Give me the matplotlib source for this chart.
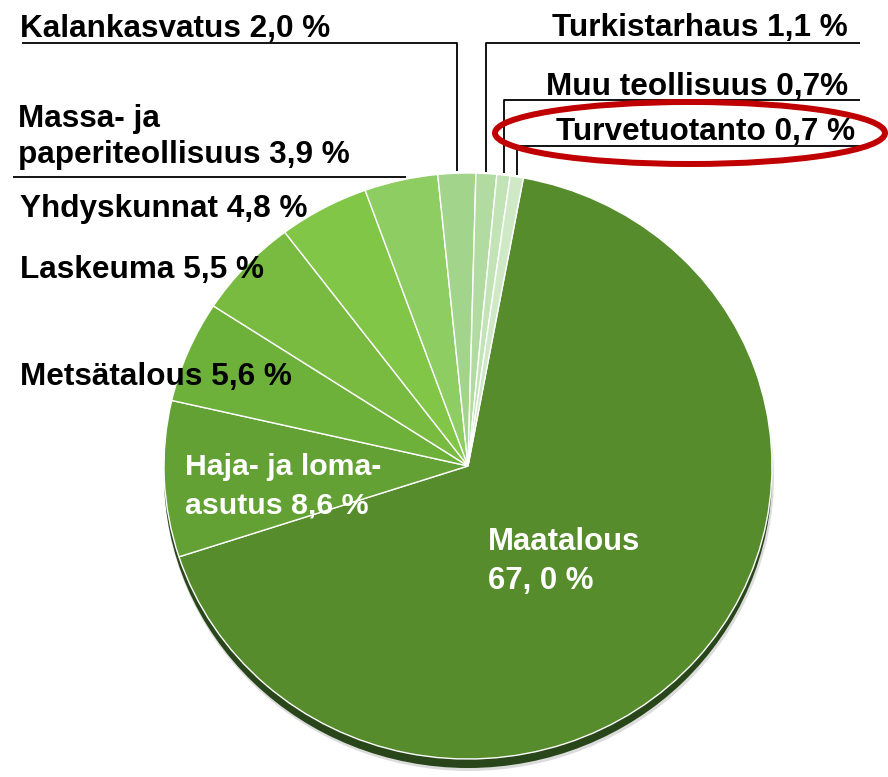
import matplotlib
matplotlib.use("Agg")
import matplotlib.pyplot as plt
from matplotlib.patches import Ellipse
from matplotlib.lines import Line2D
from matplotlib.transforms import Affine2D
import numpy as np

# ---- data ----
categories = ["Maatalous", "Haja- ja lomaasutus", "Metsätalous", "Laskeuma",
              "Yhdyskunnat", "Massa- ja paperiteollisuus", "Kalankasvatus",
              "Turkistarhaus", "Muu teollisuus", "Turvetuotanto"]
values = [67.0, 8.6, 5.6, 5.5, 4.8, 3.9, 2.0, 1.1, 0.7, 0.7]
labels = ["Maatalous\n67, 0 %", "Haja- ja loma-\nasutus 8,6 %", "Metsätalous 5,6 %",
          "Laskeuma 5,5 %", "Yhdyskunnat 4,8 %", "Massa- ja\npaperiteollisuus 3,9 %",
          "Kalankasvatus 2,0 %", "Turkistarhaus 1,1 %", "Muu teollisuus 0,7%",
          "Turvetuotanto 0,7 %"]
colors = ["#568C2C", "#63A134", "#6DB03A", "#78BB40", "#82C648", "#8DCD62",
          "#A3D48B", "#B1DBA0", "#C2E3B5", "#CFE9C6"]

W, H = 888, 777
RX, RY = 304, 293
CX, CY = 468, 466           # pie centre, pixels from top-left
SY = RX / RY                # y data scaling

plt.rcParams['font.family'] = ['Liberation Sans', 'DejaVu Sans']
fig = plt.figure(figsize=(W / 100, H / 100), dpi=100)
ax = fig.add_axes([0, 0, 1, 1])

# pixel transform (x right, y down, origin top-left)
pix = Affine2D().scale(1 / W, -1 / H).translate(0, 1) + fig.transFigure

cxd, cyd = CX, (H - CY) * SY

# shadow under the pie
ax.add_patch(Ellipse((cxd + 1, cyd - 11 * SY), 2 * RX + 2, 2 * RX + 2,
                     facecolor="#dcdcdc", edgecolor="none", zorder=0))
ax.add_patch(Ellipse((cxd, cyd - 9 * SY), 2 * RX, 2 * RX,
                     facecolor="#28461A", edgecolor="none", zorder=1))

wedges, _ = ax.pie(values, colors=colors, startangle=79.5, counterclock=False,
                   center=(cxd, cyd), radius=RX,
                   wedgeprops=dict(edgecolor="white", linewidth=1.0, zorder=2))
for w in wedges:
    w.set_zorder(2)
ax.set_xlim(0, W)
ax.set_ylim(0, H * SY)
ax.set_aspect('auto')
ax.axis('off')


def edge_px(i):
    w = wedges[i]
    mid = np.deg2rad((w.theta1 + w.theta2) / 2)
    xd = cxd + RX * np.cos(mid)
    yd = cyd + RX * np.sin(mid)
    dx, dy = ax.transData.transform((xd, yd))
    return dx, H - dy


FS = 22.7
LW = 1.3


def txt(x, y, s, ha="left", color="black", fs=FS):
    fig.text(x, y, s, transform=pix, ha=ha, va="baseline", fontsize=fs,
             fontweight="bold", color=color, zorder=5)


def line(xs, ys):
    fig.add_artist(Line2D(xs, ys, transform=pix, color="black", lw=LW,
                          solid_capstyle="butt", zorder=4))


# outside labels
txt(20, 37, labels[6])
xk, yk = edge_px(6)
line([22, xk, xk], [43, 43, yk - 2])

txt(848, 36, labels[7], ha="right")
xt, yt = edge_px(7)
line([860, xt, xt], [43, 43, yt - 2])

txt(848, 95, labels[8], ha="right")
xm, ym = edge_px(8)
line([860, xm, xm], [100, 100, ym - 2])

txt(855, 140, labels[9], ha="right")
xv, yv = edge_px(9)
line([860, xv, xv], [146, 146, yv - 2])

m1, m2 = labels[5].split("\n")
txt(18, 127, m1)
txt(18, 163, m2)
xs_, ys_ = edge_px(5)
line([13, xs_ + 5], [177, 177])

txt(20, 217, labels[4])
txt(20, 278, labels[3])
txt(20, 385, labels[2])

# inside labels
h1, h2 = labels[1].split("\n")
txt(185, 475, h1, color="white", fs=21.8)
txt(185, 513, h2, color="white", fs=21.8)
a1, a2 = labels[0].split("\n")
txt(488, 550, a1, color="white", fs=22.4)
txt(488, 589, a2, color="white", fs=22.4)

# red highlight ellipse
fig.add_artist(Ellipse((690, 133), 390, 62, transform=pix, facecolor="none",
                       edgecolor="#C00000", lw=4.3, zorder=6))

fig.savefig("out.png", dpi=100)
